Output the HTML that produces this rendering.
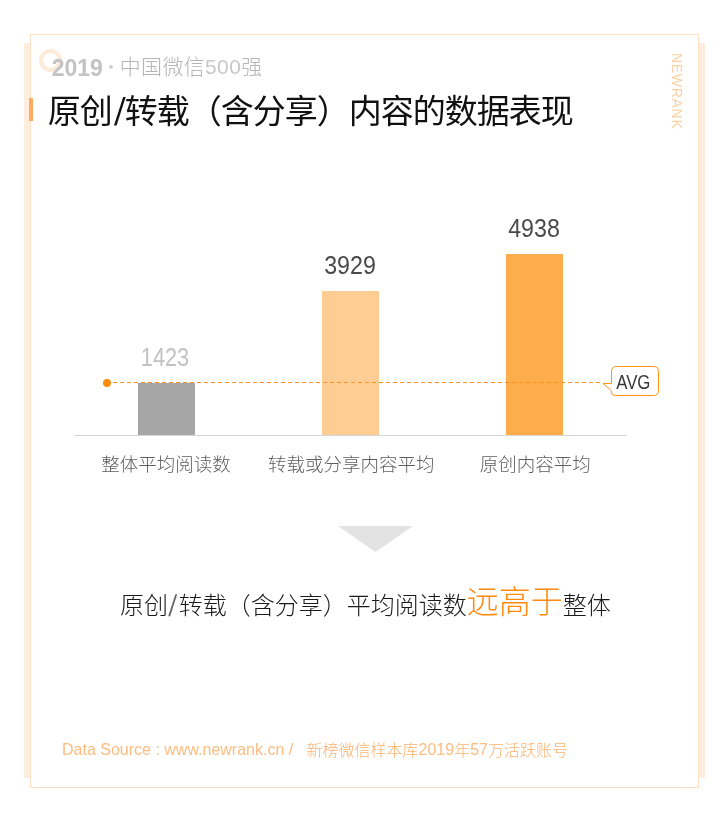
<!DOCTYPE html>
<html lang="zh-CN">
<head>
<meta charset="utf-8">
<title>原创/转载（含分享）内容的数据表现</title>
<style>
html,body{margin:0;padding:0;background:#fff;}
body{width:720px;height:815px;position:relative;overflow:hidden;will-change:transform;
  font-family:"Liberation Sans","Noto Sans CJK SC",sans-serif;}
.abs{position:absolute;}
.strip{position:absolute;background:#ffeedf;}
.frame{position:absolute;left:30px;top:34px;width:667px;height:752px;border:1px solid #ffe2c6;background:#fff;}
.ring{position:absolute;left:39px;top:48.9px;width:15px;height:15px;border:4px solid #fdebd9;border-radius:50%;box-sizing:content-box;}
.sub{position:absolute;white-space:nowrap;color:#c3c3c3;line-height:30px;}
.sub.yr{font-weight:bold;font-size:23px;font-family:"Liberation Sans",sans-serif;}
.mdot{position:absolute;left:109px;top:65px;width:4px;height:4px;border-radius:50%;background:#d2d2d2;}
.sub.rest{font-size:21px;letter-spacing:0.35px;font-weight:300;font-family:"Liberation Sans","Noto Sans CJK SC",sans-serif;color:#b5b5b5;}
.title{position:absolute;left:47.7px;top:92px;font-size:33px;letter-spacing:-1px;line-height:40px;color:#111;white-space:nowrap;
  font-family:"Liberation Sans","Noto Sans CJK SC",sans-serif;}
.title .sl{display:inline-block;margin:0 3px 0 2px;transform:translateX(1.2px) scaleY(1.17) skewX(-6deg);}
.accent{position:absolute;left:29px;top:98px;width:4px;height:23px;background:#fdab5e;}
.brand{position:absolute;left:669px;top:53px;width:16px;height:77px;}
.brand span{position:absolute;left:0;top:0;transform-origin:0 0;transform:translate(16px,0) rotate(90deg);
  font-size:14px;line-height:16px;letter-spacing:0.7px;color:#fdd0a3;white-space:nowrap;font-family:"Liberation Sans",sans-serif;}
.axis{position:absolute;left:74px;top:435px;width:553px;height:1px;background:#d6d6d6;}
.bar{position:absolute;width:57px;}
.val{position:absolute;width:120px;text-align:center;font-size:25px;line-height:30px;font-weight:300;transform:scaleX(0.93);
  font-family:"Liberation Sans","Noto Sans CJK SC",sans-serif;}
.cat{position:absolute;width:200px;text-align:center;font-size:18.5px;line-height:24px;color:#5e5e5e;font-weight:300;
  font-family:"Liberation Sans","Noto Sans CJK SC",sans-serif;}
.avgline{position:absolute;left:112.9px;top:382px;width:487px;height:1px;
  background:repeating-linear-gradient(90deg,#ff8f1f 0 4px,transparent 4px 7px);}
.avgdot{position:absolute;left:102.6px;top:378.5px;width:8px;height:8px;border-radius:50%;background:#ff8c0f;}
.concl{position:absolute;left:120px;top:585px;white-space:nowrap;font-size:24px;line-height:36px;color:#1a1a1a;font-weight:300;
  font-family:"Liberation Sans","Noto Sans CJK SC",sans-serif;}
.concl .sl{display:inline-block;margin:0 2px;color:#666;transform:translateX(-0.8px) scaleY(1.25) skewX(-7.5deg);}
.concl b{font-weight:300;font-size:32px;color:#ff8a10;position:relative;top:-0.8px;}
.foot .lt{position:relative;top:-1.2px;color:#fcbd82;}
.foot{position:absolute;left:62px;top:740px;white-space:nowrap;font-size:16px;line-height:22px;color:#fbb26e;font-weight:300;
  font-family:"Liberation Sans","Noto Sans CJK SC",sans-serif;}
</style>
</head>
<body>
<div class="strip" style="left:24px;top:43px;width:7px;height:735px;"></div>
<div class="strip" style="left:698px;top:43px;width:7px;height:735px;"></div>
<div class="frame"></div>

<div class="ring"></div>
<div class="sub yr" style="left:51.7px;top:52.6px;">2019</div>
<div class="mdot"></div>
<div class="sub rest" style="left:119.7px;top:52.2px;">中国微信<span style="color:#c8c8c8">500</span>强</div>
<div class="accent"></div>
<div class="title">原创<span class="sl">/</span>转载（含分享）内容的数据表现</div>
<div class="brand"><span>NEWRANK</span></div>

<!-- chart -->
<div class="axis"></div>
<div class="bar" style="left:138px;top:383px;height:52px;background:#a6a6a6;"></div>
<div class="bar" style="left:322px;top:291px;height:144px;background:#fecd94;"></div>
<div class="bar" style="left:506px;top:254px;height:181px;background:#fdad4c;"></div>

<div class="val" style="left:105px;top:342px;color:#c2c2c2;transform:scaleX(0.87);">1423</div>
<div class="val" style="left:290px;top:250px;color:#4a4a4a;">3929</div>
<div class="val" style="left:474px;top:213px;color:#4a4a4a;">4938</div>

<div class="avgline"></div>
<div class="avgdot"></div>
<svg class="abs" style="left:600px;top:363px;" width="64" height="36" viewBox="0 0 64 36">
  <path d="M11.5 8.5 Q11.5 3.5 16.5 3.5 L53.5 3.5 Q58.5 3.5 58.5 8.5 L58.5 27.5 Q58.5 32.5 53.5 32.5 L15 32.5 Q11.5 32.5 11.5 29 Q11.5 27.6 10.4 26.7 L3 20.5 L11.5 20.5 Z" fill="#fff" stroke="#ff9214" stroke-width="1"/>
  <text x="16.2" y="26" textLength="34.2" lengthAdjust="spacingAndGlyphs" font-family="Liberation Sans, sans-serif" font-size="20" fill="#3a3a3a">AVG</text>
</svg>

<div class="cat" style="left:66px;top:453px;">整体平均阅读数</div>
<div class="cat" style="left:251.3px;top:453px;">转载或分享内容平均</div>
<div class="cat" style="left:435.3px;top:453px;">原创内容平均</div>

<svg class="abs" style="left:338px;top:526px;" width="75" height="26" viewBox="0 0 75 26">
  <polygon points="0,0 75,0 37.5,26" fill="#e3e3e3"/>
</svg>

<div class="concl">原创<span class="sl">/</span>转载（含分享）平均阅读数<b>远高于</b>整体</div>

<div class="foot"><span class="lt">Data Source : www.newrank.cn /</span>&nbsp;&nbsp;&nbsp;新榜微信样本库<span class="lt">2019</span>年<span class="lt">57</span>万活跃账号</div>
</body>
</html>
